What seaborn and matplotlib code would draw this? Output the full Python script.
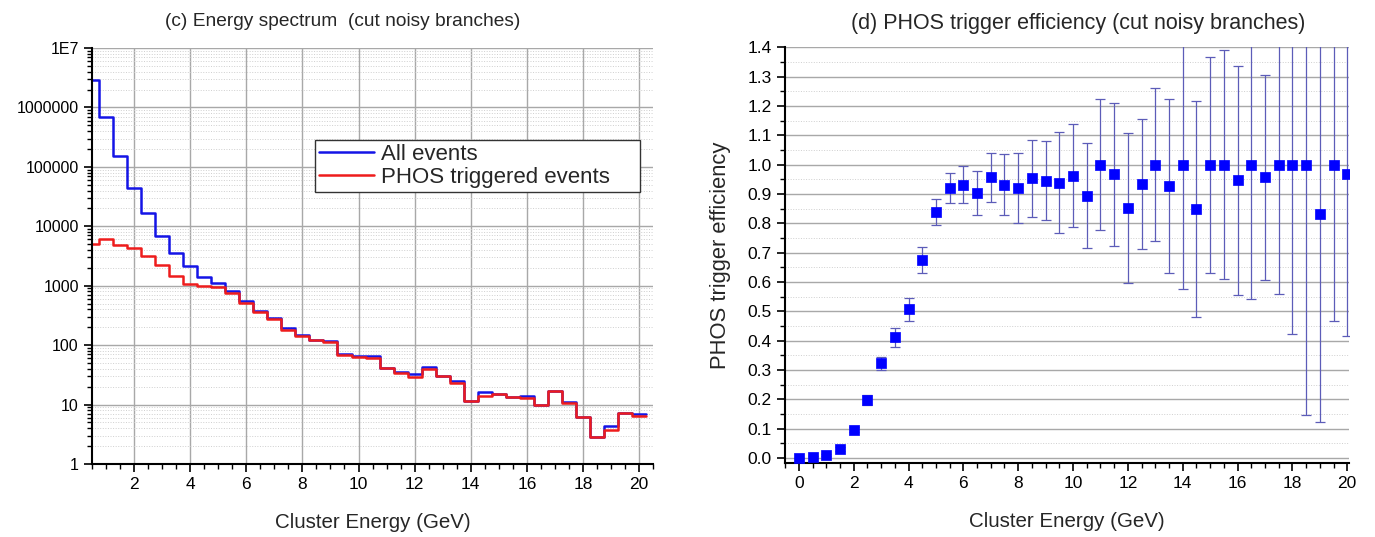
import numpy as np
import pandas as pd
import matplotlib
matplotlib.use("Agg")
import matplotlib.pyplot as plt
from matplotlib.ticker import MultipleLocator, FuncFormatter, LogLocator, NullFormatter
from matplotlib.lines import Line2D
import seaborn as sns

# ---------------- data ----------------
energy_bins = [0.5, 1.0, 1.5, 2.0, 2.5, 3.0, 3.5, 4.0, 4.5, 5.0,
               5.5, 6.0, 6.5, 7.0, 7.5, 8.0, 8.5, 9.0, 9.5, 10.0,
               10.5, 11.0, 11.5, 12.0, 12.5, 13.0, 13.5, 14.0, 14.5, 15.0,
               15.5, 16.0, 16.5, 17.0, 17.5, 18.0, 18.5, 19.0, 19.5, 20.0]
all_events = [2.85e6, 7.0e5, 1.5e5, 4.4e4, 1.65e4, 6.8e3, 3.5e3, 2.15e3, 1.4e3, 1.1e3,
              800, 550, 380, 290, 195, 150, 123, 117, 70, 66,
              65, 42, 35, 33, 43, 30, 25, 11.5, 16, 15,
              13.5, 14, 10, 17, 11, 6.2, 2.8, 4.4, 7.2, 6.8]
phos_events = [5.1e3, 6.1e3, 4.9e3, 4.3e3, 3.2e3, 2.2e3, 1.45e3, 1.08e3, 970, 940,
               740, 510, 360, 278, 182, 140, 121, 112, 67, 64,
               60, 41, 34, 29, 40, 30, 23, 11.3, 14, 15,
               13.4, 13, 9.8, 17, 10.8, 6.2, 2.8, 3.7, 7.1, 6.5]

eff_energy = [0.0, 0.5, 1.0, 1.5, 2.0, 2.5, 3.0, 3.5, 4.0, 4.5,
              5.0, 5.5, 6.0, 6.5, 7.0, 7.5, 8.0, 8.5, 9.0, 9.5,
              10.0, 10.5, 11.0, 11.5, 12.0, 12.5, 13.0, 13.5, 14.0, 14.5,
              15.0, 15.5, 16.0, 16.5, 17.0, 17.5, 18.0, 18.5, 19.0, 19.5, 20.0]
efficiency = [0.0, 0.002, 0.010, 0.031, 0.096, 0.197, 0.322, 0.411, 0.507, 0.674,
              0.839, 0.920, 0.931, 0.903, 0.956, 0.931, 0.920, 0.953, 0.945, 0.938,
              0.962, 0.894, 1.0, 0.967, 0.853, 0.933, 1.0, 0.928, 1.0, 0.848,
              1.0, 1.0, 0.946, 1.0, 0.956, 1.0, 1.0, 1.0, 0.833, 1.0, 0.967]
eff_error = [0.0, 0.004, 0.005, 0.007, 0.009, 0.016, 0.023, 0.032, 0.039, 0.044,
             0.044, 0.052, 0.063, 0.074, 0.083, 0.104, 0.118, 0.130, 0.135, 0.172,
             0.176, 0.180, 0.222, 0.244, 0.256, 0.222, 0.262, 0.297, 0.425, 0.369,
             0.368, 0.390, 0.390, 0.457, 0.350, 0.440, 0.578, 0.854, 0.710, 0.532, 0.552]

left_title = "(c) Energy spectrum  (cut noisy branches)"
right_title = "(d) PHOS trigger efficiency (cut noisy branches)"
x_label = "Cluster Energy (GeV)"
right_ylabel = "PHOS trigger efficiency"
legend_labels = ["All events", "PHOS triggered events"]

# ---------------- style ----------------
sns.set_theme(style="white")
plt.rcParams["font.family"] = ["Liberation Sans", "DejaVu Sans"]

fig = plt.figure(figsize=(13.75, 5.37), dpi=100)
ax1 = fig.add_axes([0.0669, 0.136, 0.4081, 0.7746])
ax2 = fig.add_axes([0.571, 0.138, 0.410, 0.774])

blue = "#1414e6"
red = "#ee1c1c"

# ---------------- left: spectrum ----------------
bw = 0.5
edges = [e - bw / 2 for e in energy_bins] + [energy_bins[-1] + bw / 2]
df = pd.DataFrame({"E": energy_bins, "all": all_events, "phos": phos_events})
ax1.set_yscale("log")
sns.histplot(data=df, x="E", weights="all", bins=edges, element="step", fill=False,
             color=blue, linewidth=1.8, ax=ax1)
sns.histplot(data=df, x="E", weights="phos", bins=edges, element="step", fill=False,
             color=red, linewidth=1.8, ax=ax1)
ax1.set_xlim(0.5, 20.5)
ax1.set_ylim(1, 1e7)

ax1.xaxis.set_major_locator(MultipleLocator(2))
ax1.xaxis.set_minor_locator(MultipleLocator(0.5))
ax1.yaxis.set_major_locator(LogLocator(base=10, numticks=10))
ax1.yaxis.set_minor_locator(LogLocator(base=10, subs=np.arange(2, 10), numticks=100))
ax1.yaxis.set_minor_formatter(NullFormatter())

def logfmt(v, pos):
    if v >= 1e7 - 1:
        return "1E7"
    return f"{int(round(v))}"
ax1.yaxis.set_major_formatter(FuncFormatter(logfmt))
ax1.set_xticks([2, 4, 6, 8, 10, 12, 14, 16, 18, 20])

ax1.grid(which="major", axis="both", color="#a8a8a8", linewidth=1.0, linestyle="-")
ax1.grid(which="minor", axis="y", color="#cfcfcf", linewidth=0.7, linestyle=":")
ax1.set_axisbelow(True)

ax1.set_title(left_title, fontsize=13.8, pad=16, x=0.447)
ax1.set_xlabel(x_label, fontsize=14.8, labelpad=15)
ax1.set_ylabel("")

handles = [Line2D([0], [0], color=blue, lw=1.8), Line2D([0], [0], color=red, lw=1.8)]
leg = ax1.legend(handles, legend_labels, loc="upper left",
                 bbox_to_anchor=(0.397, 0.654, 0.58, 0.125), mode="expand",
                 fancybox=False, edgecolor="#333333", framealpha=1, fontsize=16,
                 handlelength=2.5, borderaxespad=0, borderpad=0.18, labelspacing=0.1,
                 handletextpad=0.3)
leg.get_frame().set_linewidth(1.0)

# ---------------- right: efficiency ----------------
ax2.errorbar(eff_energy, efficiency, yerr=eff_error, fmt="none", ecolor="#5c5cb8",
             elinewidth=0.9, capsize=3.5, capthick=0.9, zorder=2)
sns.scatterplot(x=eff_energy, y=efficiency, marker="s", s=62, color="#0000ff",
                edgecolor="#0000ff", linewidth=0.5, ax=ax2, zorder=3)
ax2.set_xlim(-0.5, 20.06)
ax2.set_ylim(-0.017, 1.4)
ax2.xaxis.set_major_locator(MultipleLocator(2))
ax2.xaxis.set_minor_locator(MultipleLocator(0.5))
ax2.yaxis.set_major_locator(MultipleLocator(0.1))
ax2.yaxis.set_minor_locator(MultipleLocator(0.05))
ax2.yaxis.set_major_formatter(FuncFormatter(lambda v, p: f"{v:.1f}"))
ax2.grid(which="major", axis="y", color="#a8a8a8", linewidth=1.0, linestyle="-")
ax2.grid(which="minor", axis="y", color="#cfcfcf", linewidth=0.7, linestyle=":")
ax2.grid(which="both", axis="x", visible=False)
ax2.set_axisbelow(True)

ax2.set_title(right_title, fontsize=15.5, pad=13, x=0.52)
ax2.set_xlabel(x_label, fontsize=14.8, labelpad=15)
ax2.set_ylabel(right_ylabel, fontsize=15.8, labelpad=12)

for ax in (ax1, ax2):
    for s in ("top", "right"):
        ax.spines[s].set_visible(False)
    for s in ("left", "bottom"):
        ax.spines[s].set_color("black")
        ax.spines[s].set_linewidth(1.5)
    ax.tick_params(which="major", direction="out", length=6, width=1.2, colors="black",
                   labelsize=12.5, left=True, bottom=True)
    ax.tick_params(which="minor", direction="out", length=3.5, width=1.0, colors="black",
                   left=True, bottom=True)
ax1.tick_params(axis="y", which="major", labelsize=11.5)

fig.savefig("out.png", dpi=100)
